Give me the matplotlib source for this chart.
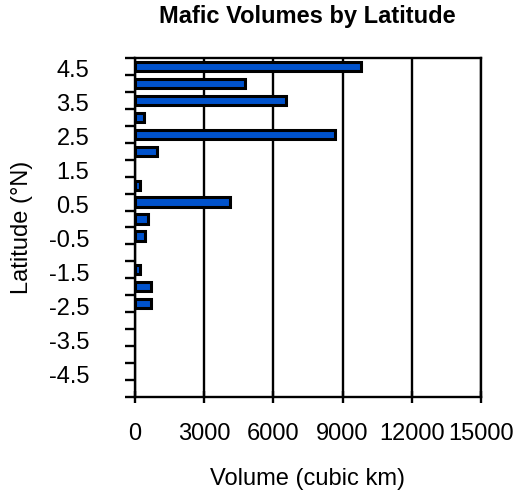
import matplotlib
matplotlib.use("Agg")
import matplotlib.pyplot as plt
import matplotlib.transforms as mtransforms
import numpy as np

latitudes = [4.5, 4.0, 3.5, 3.0, 2.5, 2.0, 1.5, 1.0, 0.5, 0.0,
             -0.5, -1.0, -1.5, -2.0, -2.5, -3.0, -3.5, -4.0, -4.5, -5.0]
volumes = [9800, 4750, 6550, 400, 8650, 950, 0, 200, 4100, 550,
           450, 0, 200, 700, 700, 0, 0, 0, 0, 0]
ytick_labels = ["4.5", "3.5", "2.5", "1.5", "0.5", "-0.5", "-1.5", "-2.5", "-3.5", "-4.5"]
xticks = [0, 3000, 6000, 9000, 12000, 15000]

plt.rcParams['font.family'] = ['Liberation Sans', 'DejaVu Sans']
FS = 17

fig = plt.figure(figsize=(5.16, 4.98), dpi=100)
ax = fig.add_axes([135/516, 1-397/498, (481-135)/516, (397-58)/498])

lw = [2.2 if v > 0 else 0 for v in volumes]
ax.barh(latitudes, volumes, height=0.27, color='#0052CC', edgecolor='black',
        linewidth=lw, zorder=3)

ax.set_xlim(0, 15000)
ax.set_ylim(-5.25, 4.75)
ax.set_xticks(xticks)
ax.set_xticklabels([str(x) for x in xticks], fontsize=FS)
ax.grid(axis='x', color='black', linewidth=1.7, zorder=1)

# category boundary ticks
bounds = np.arange(-5.25, 4.76, 0.5)
ax.set_yticks(bounds)
ax.set_yticklabels([])
ax.set_yticks([float(s) for s in ytick_labels], minor=True)
ax.set_yticklabels(ytick_labels, minor=True, fontsize=FS)
ax.tick_params(axis='y', which='major', direction='out', length=7, width=1.7)
ax.tick_params(axis='y', which='minor', length=0, pad=33)
ax.tick_params(axis='x', which='major', direction='inout', length=9, width=1.7, pad=14)

offset = mtransforms.ScaledTranslation(0, -2.5/100, fig.dpi_scale_trans)
for lab in ax.get_yticklabels(minor=True):
    lab.set_transform(lab.get_transform() + offset)

for s in ax.spines.values():
    s.set_linewidth(1.7)
    s.set_color('black')

fig.text(307/516, 1-23/498, "Mafic Volumes by Latitude", ha='center', va='baseline',
         fontsize=FS, fontweight='bold')
fig.text(308/516, 1-485/498, "Volume (cubic km)", ha='center', va='baseline', fontsize=FS)
fig.text(22/516, 1-227/498, "Latitude (°N)", ha='center', va='center', rotation=90, fontsize=FS)

fig.savefig("out.png", dpi=100)
